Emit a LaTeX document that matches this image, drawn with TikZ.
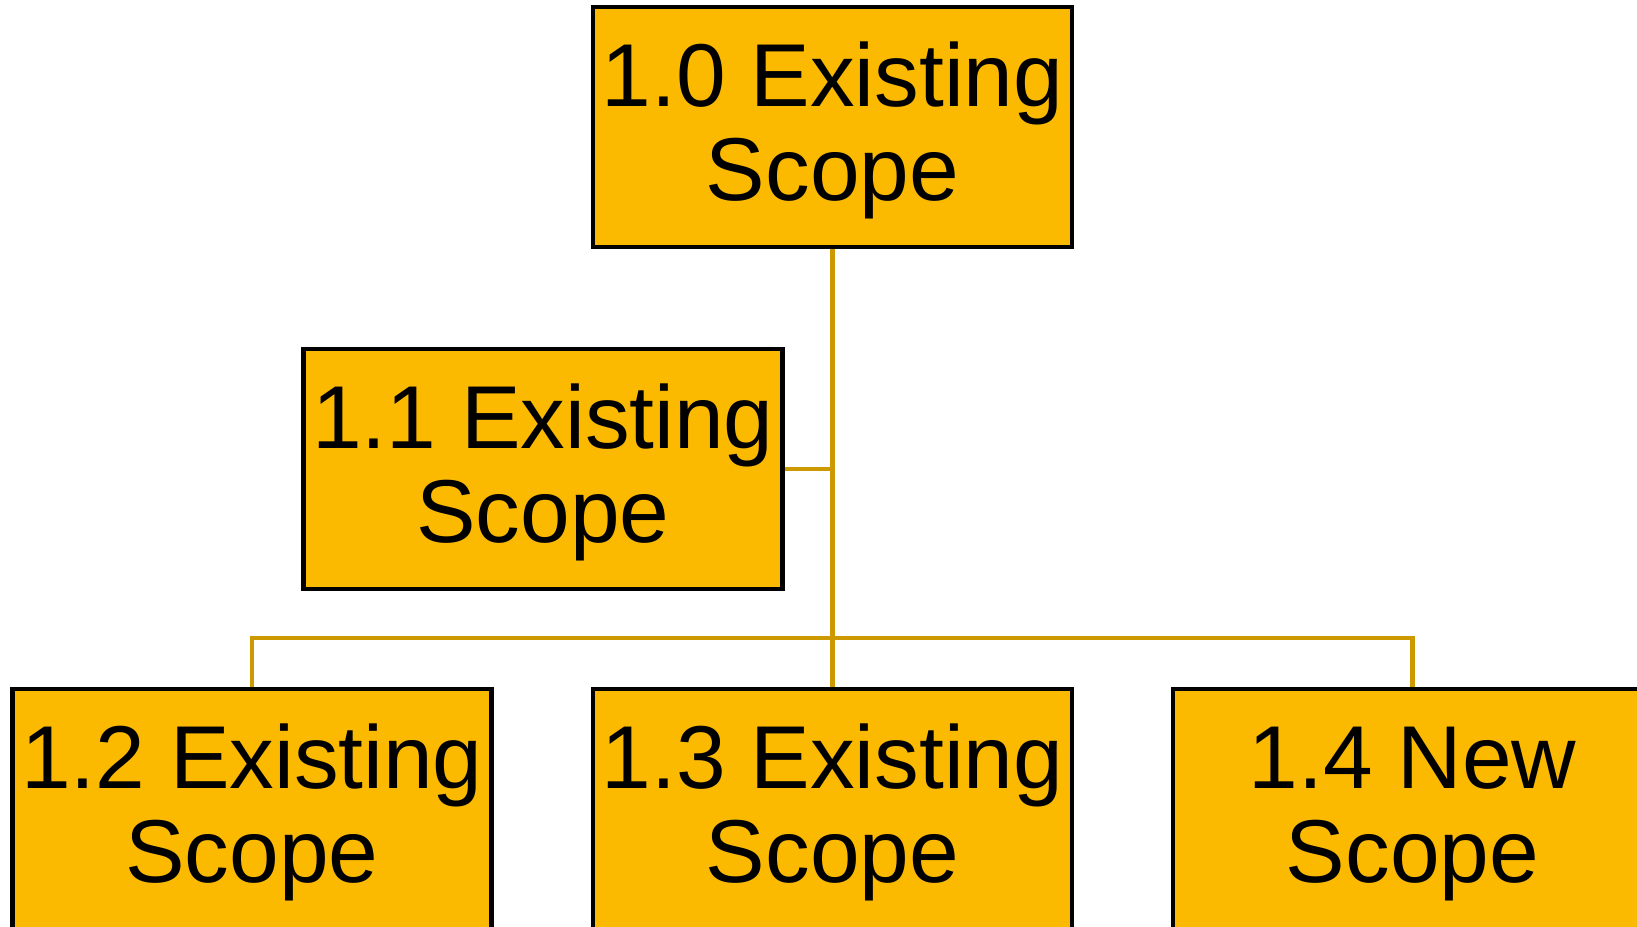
\documentclass[tikz,border=0pt]{standalone}
\usepackage{fontspec}
\setmainfont{Liberation Sans}
\usepackage{tikz}
\usetikzlibrary{arrows,shapes,positioning,calc}
\usepackage{xcolor}
\definecolor{wbsfill}{RGB}{251,185,0}
\definecolor{wbsline}{RGB}{204,153,0}
\newcommand{\wbspad}{\rule{0pt}{\dimexpr\fontcharht\font`\1+3pt\relax}}
\tikzstyle{wbsbox} = [draw=black, line width=1.4pt, fill=wbsfill, minimum width=4.79cm, minimum height=2.40cm, inner sep=0pt, align=center, font=\fontsize{25.4}{26.6}\selectfont]
\tikzstyle{bus} = [line width=1.3pt, color=wbsline]

\begin{document}
\begin{tikzpicture}
\useasboundingbox (0,0) rectangle (16.37,-9.26);
\clip (0,0) rectangle (16.37,-9.26);

% Top level
\node[wbsbox] (n10) at (8.325,-1.27) {\wbspad 1.0 Existing\\Scope};

% Side branch
\node[wbsbox] (n11) at (5.43,-4.69) {\wbspad 1.1 Existing\\Scope};

% Bottom level
\node[wbsbox] (n12) at (2.52,-8.09) {\wbspad 1.2 Existing\\Scope};
\node[wbsbox] (n13) at (8.325,-8.09) {\wbspad 1.3 Existing\\Scope};
\node[wbsbox] (n14) at (14.125,-8.09) {\wbspad 1.4 New\\Scope};

% Connectors
\coordinate (bus) at (8.325,-6.38);
\draw[bus] (n10.south) -- (n13.north);
\draw[bus] (n11.east) -- (n11.east -| n10.south);
\draw[bus] (n12.north) |- (bus) -| (n14.north);
\end{tikzpicture}
\end{document}
